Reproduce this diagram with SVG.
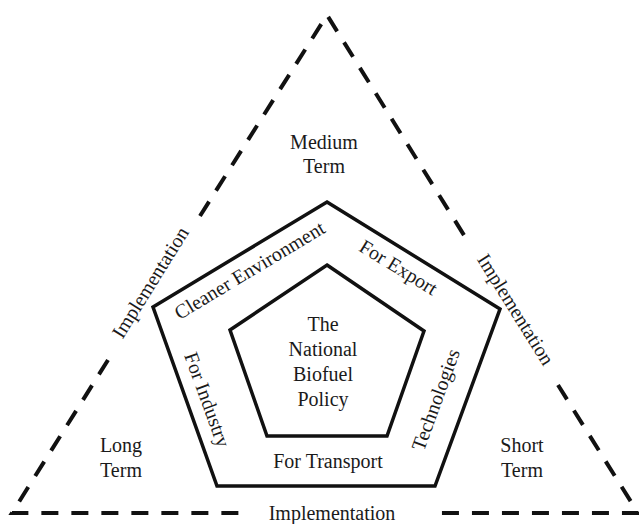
<svg xmlns="http://www.w3.org/2000/svg" width="639" height="524" viewBox="0 0 639 524">
<style>
.dash{fill:none;stroke:#111;stroke-width:4;stroke-dasharray:17 13}
.pent{fill:none;stroke:#111;stroke-width:3.5;stroke-linejoin:miter}
text{font-family:"Liberation Serif","Times New Roman",serif;font-size:20px;fill:#1a1a1a;text-anchor:middle}
</style>
<rect width="639" height="524" fill="#fff"/>
<g id="connectors">
<polyline class="dash" points="108,360 12,513 248,513"/>
<polyline class="dash" points="200,216 327,15 467,240"/>
<polyline class="dash" points="558,385 638,513 430,513"/>
</g>
<g id="outer-pentagon">
<polygon class="pent" points="327,202 500,309 435,486 217,486 153,307"/>
<text x="253" y="276" transform="rotate(-31 253 276)">Cleaner Environment</text>
<text x="395" y="273" transform="rotate(31.5 395 273)">For Export</text>
<text x="201" y="402" transform="rotate(70 201 402)">For Industry</text>
<text x="442" y="402" transform="rotate(-70 442 402)">Technologies</text>
<text x="328" y="468">For Transport</text>
</g>
<g id="inner-pentagon">
<polygon class="pent" points="327,265 424,331 387,436 267,436 230,330"/>
<text x="323" y="331">The</text>
<text x="323" y="356">National</text>
<text x="323" y="381">Biofuel</text>
<text x="323" y="406">Policy</text>
</g>
<g id="medium-term">
<text x="324" y="149">Medium</text>
<text x="324" y="173">Term</text>
</g>
<g id="long-term">
<text x="121" y="452">Long</text>
<text x="121" y="477">Term</text>
</g>
<g id="short-term">
<text x="522" y="452">Short</text>
<text x="522" y="477">Term</text>
</g>
<g id="implementation-labels">
<text x="156" y="286" transform="rotate(-58 156 286)">Implementation</text>
<text x="510" y="313" transform="rotate(58 510 313)">Implementation</text>
<text x="332" y="520">Implementation</text>
</g>
</svg>
